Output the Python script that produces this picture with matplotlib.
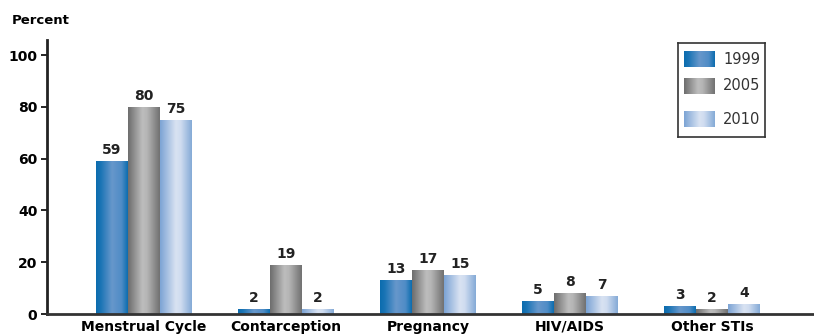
import matplotlib
matplotlib.use("Agg")
import matplotlib.pyplot as plt
import numpy as np
from matplotlib.colors import LinearSegmentedColormap
from matplotlib.patches import Rectangle

categories = ["Menstrual Cycle", "Contarception", "Pregnancy", "HIV/AIDS", "Other STIs"]
years = ["1999", "2005", "2010"]
values_1999 = [59, 2, 13, 5, 3]
values_2005 = [80, 19, 17, 8, 2]
values_2010 = [75, 2, 15, 7, 4]
y_ticks = [0, 20, 40, 60, 80, 100]

# gradient colour maps, one per year (left -> right across the bar)
cmaps = {
    "1999": LinearSegmentedColormap.from_list("c1999", [
        (0.0, "#0b6cae"), (0.15, "#1a74b5"), (0.5, "#6797cb"),
        (0.8, "#4f8cc6"), (1.0, "#0a6cae")]),
    "2005": LinearSegmentedColormap.from_list("c2005", [
        (0.0, "#6c6c6c"), (0.45, "#bdbdbd"), (0.6, "#b5b5b5"),
        (1.0, "#707070")]),
    "2010": LinearSegmentedColormap.from_list("c2010", [
        (0.0, "#7ba3d4"), (0.5, "#d9e3f2"), (0.65, "#cfdcf0"),
        (1.0, "#84aad6")]),
}
grad = np.linspace(0, 1, 256).reshape(1, -1)


def gradient_bar(ax, x, h, w, cmap):
    bar = ax.bar(x, h, w, color="none", edgecolor="none", align="edge")[0]
    img = ax.imshow(grad, cmap=cmap, aspect="auto", extent=(x, x + w, 0, h),
                    interpolation="bicubic", zorder=2)
    img.set_clip_path(bar)


fig = plt.figure(figsize=(8.14, 3.35), dpi=100)
ax = fig.add_axes([47 / 814, 21 / 335, 767 / 814, 274 / 335])

w = 0.225
x = np.arange(len(categories))
series = [values_1999, values_2005, values_2010]
for i, (yr, vals) in enumerate(zip(years, series)):
    for xi, v in zip(x, vals):
        left = xi + (i - 1.5) * w
        gradient_bar(ax, left, v, w, cmaps[yr])
        ax.text(left + w / 2, v + 1.5, str(v), ha="center", va="bottom",
                fontsize=10, fontweight="bold", color="#222222")

ax.set_xlim(-0.683, 4.718)
ax.set_ylim(0, 105.8)
ax.set_yticks(y_ticks)
ax.set_yticklabels([str(t) for t in y_ticks], fontsize=10, fontweight="bold")
ax.set_xticks(x)
ax.set_xticklabels(categories, fontsize=10, fontweight="bold")
ax.tick_params(axis="x", length=0, pad=4)
ax.tick_params(axis="y", length=4, width=1.2, direction="out", pad=3)
for s in ["top", "right"]:
    ax.spines[s].set_visible(False)
ax.spines["left"].set_linewidth(2)
ax.spines["bottom"].set_linewidth(2)
ax.spines["left"].set_color("#222222")
ax.spines["bottom"].set_color("#333333")

fig.text(12 / 814, 1 - 20 / 335, "Percent", fontsize=9.5, fontweight="bold",
         va="center", ha="left")

# legend drawn by hand so the swatches keep the gradient
lax = fig.add_axes([678 / 814, 1 - 137 / 335, 87 / 814, 94 / 335])
lax.set_xlim(0, 87)
lax.set_ylim(94, 0)
lax.set_xticks([])
lax.set_yticks([])
for s in lax.spines.values():
    s.set_linewidth(1.2)
    s.set_color("#333333")
swatch_y = [16, 43, 76]
for yr, sy in zip(years, swatch_y):
    lax.imshow(grad, cmap=cmaps[yr], aspect="auto",
               extent=(6, 37, sy + 8, sy - 8), interpolation="bicubic")
    lax.text(45, sy, yr, fontsize=10.5, va="center", ha="left", color="#333333")
lax.set_xlim(0, 87)
lax.set_ylim(94, 0)

fig.savefig("out.png", dpi=100)
